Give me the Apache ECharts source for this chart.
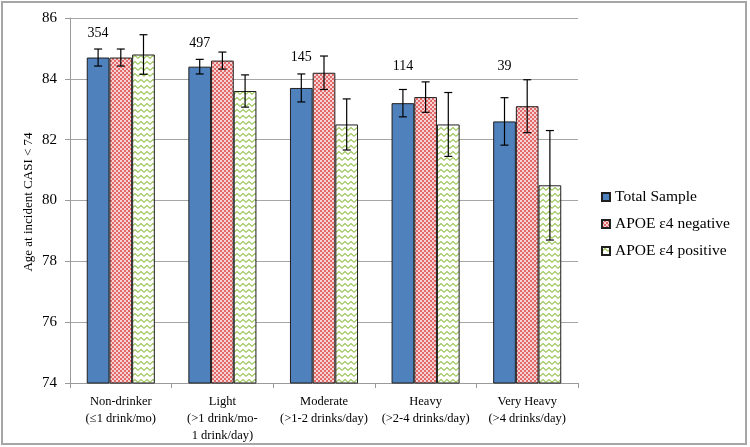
<!DOCTYPE html>
<html><head><meta charset="utf-8">
<script src="https://cdn.jsdelivr.net/npm/echarts@6/dist/echarts.min.js"></script>
<style>html,body{margin:0;padding:0;background:#fff}#c{width:750px;height:447px}</style>
</head><body><div id="c"></div>
<script>
const categories = ['Non-drinker\n(≤1 drink/mo)', 'Light\n(>1 drink/mo-\n1 drink/day)', 'Moderate\n(>1-2 drinks/day)', 'Heavy\n(>2-4 drinks/day)', 'Very Heavy\n(>4 drinks/day)'];
const seriesNames = ['Total Sample', 'APOE ε4 negative', 'APOE ε4 positive'];
const totalMean = [84.7, 84.4, 83.7, 83.2, 82.6];
const totalErr  = [0.28, 0.24, 0.46, 0.45, 0.78];
const negMean   = [84.7, 84.6, 84.2, 83.4, 83.1];
const negErr    = [0.28, 0.28, 0.55, 0.50, 0.87];
const posMean   = [84.8, 83.6, 82.5, 82.5, 80.5];
const posErr    = [0.65, 0.53, 0.84, 1.05, 1.80];
const counts    = ['354', '497', '145', '114', '39'];
const countY    = [85.5, 85.18, 84.7, 84.4, 84.4];
const yTicks    = { min: 74, max: 86, interval: 2 };

const GAP = 0.33;
const FONT = '"Liberation Serif", "Times New Roman", serif';

function makePink() {
  const c = document.createElement('canvas'); c.width = 4; c.height = 4;
  const g = c.getContext('2d');
  g.fillStyle = '#e26a6a'; g.fillRect(0, 0, 4, 4);
  g.fillStyle = '#ffffff';
  g.beginPath(); g.arc(1, 1, 0.95, 0, Math.PI * 2); g.fill();
  g.beginPath(); g.arc(3, 3, 0.95, 0, Math.PI * 2); g.fill();
  return c;
}
function makeGreen() {
  const c = document.createElement('canvas'); c.width = 6; c.height = 6;
  const g = c.getContext('2d');
  g.fillStyle = '#ffffff'; g.fillRect(0, 0, 6, 6);
  g.strokeStyle = '#9cc55a'; g.lineWidth = 1.2;
  g.beginPath(); g.moveTo(-3, 1.5); g.lineTo(0, 4.2); g.lineTo(3, 1.5); g.lineTo(6, 4.2); g.lineTo(9, 1.5); g.stroke();
  return c;
}

const fills = ['#4f81bd', { image: makePink(), repeat: 'repeat' }, { image: makeGreen(), repeat: 'repeat' }];
const means = [totalMean, negMean, posMean];
const errs = [totalErr, negErr, posErr];

function barSeries(idx) {
  return {
    type: 'bar', name: seriesNames[idx], data: means[idx],
    barGap: '0%', barCategoryGap: (GAP * 100) + '%',
    itemStyle: { color: fills[idx], borderColor: '#1f1f1f', borderWidth: 1 },
    silent: true
  };
}
function errSeries(idx) {
  return {
    type: 'custom', name: seriesNames[idx] + ' err', z: 10, silent: true,
    encode: { x: 0, y: 1 },
    data: means[idx].map((m, i) => [i, m, errs[idx][i]]),
    renderItem(params, api) {
      const ci = api.value(0), m = api.value(1), e = api.value(2);
      const catW = api.size([1, 0])[0];
      const barW = catW * (1 - GAP) / 3;
      const x = api.coord([ci, m])[0] + (idx - 1) * barW;
      const yTop = api.coord([ci, m + e])[1], yBot = api.coord([ci, m - e])[1];
      const cap = 4;
      const style = { stroke: '#000', lineWidth: 1.2 };
      return { type: 'group', children: [
        { type: 'line', shape: { x1: x, y1: yTop, x2: x, y2: yBot }, style },
        { type: 'line', shape: { x1: x - cap, y1: yTop, x2: x + cap, y2: yTop }, style },
        { type: 'line', shape: { x1: x - cap, y1: yBot, x2: x + cap, y2: yBot }, style }
      ]};
    }
  };
}
const countSeries = {
  type: 'custom', name: 'counts', z: 11, silent: true,
  encode: { x: 0, y: 1 },
  data: counts.map((t, i) => [i, countY[i], t]),
  renderItem(params, api) {
    const ci = api.value(0), y = api.value(1);
    const catW = api.size([1, 0])[0];
    const barW = catW * (1 - GAP) / 3;
    const p = api.coord([ci, y]);
    return { type: 'text', x: p[0] - barW, y: p[1],
      style: { text: counts[params.dataIndex], fill: '#000', font: '14px ' + FONT, textAlign: 'center', textVerticalAlign: 'middle' } };
  }
};

const chart = echarts.init(document.getElementById('c'), null, { renderer: 'canvas', devicePixelRatio: 1 });
chart.setOption({
  animation: false,
  backgroundColor: '#fff',
  grid: { left: 70, right: 172, top: 18, bottom: 64 },
  legend: {
    data: seriesNames, orient: 'vertical', left: 601, top: 189, padding: 0,
    itemWidth: 8, itemHeight: 8, itemGap: 11, icon: 'rect',
    textStyle: { fontFamily: FONT, fontSize: 15.5, color: '#000' }
  },
  xAxis: {
    type: 'category', data: categories,
    axisLine: { lineStyle: { color: '#9a9a9a' } },
    axisTick: { show: true, length: 5, lineStyle: { color: '#9a9a9a' } },
    axisLabel: { fontFamily: FONT, fontSize: 12.5, color: '#000', lineHeight: 17, margin: 10, interval: 0 }
  },
  yAxis: {
    type: 'value', min: yTicks.min, max: yTicks.max, interval: yTicks.interval,
    axisLine: { show: true, lineStyle: { color: '#9a9a9a' } },
    axisTick: { show: true, length: 5, lineStyle: { color: '#9a9a9a' } },
    splitLine: { lineStyle: { color: '#a6a6a6' } },
    axisLabel: { fontFamily: FONT, fontSize: 15, color: '#000', margin: 13 }
  },
  graphic: [
    { type: 'rect', shape: { x: 2, y: 2, width: 744, height: 442 }, style: { fill: 'none', stroke: '#a6a6a6', lineWidth: 2 }, silent: true },
    { type: 'text', x: 29, y: 202, rotation: Math.PI / 2,
      style: { text: 'Age at incident CASI < 74', font: '13px ' + FONT, fill: '#000', textAlign: 'center', textVerticalAlign: 'middle' } }
  ],
  series: [barSeries(0), barSeries(1), barSeries(2), errSeries(0), errSeries(1), errSeries(2), countSeries]
});
</script>
</body></html>
